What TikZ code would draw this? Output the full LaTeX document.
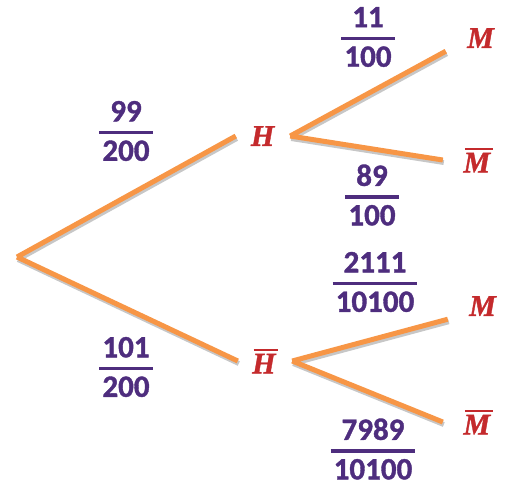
\documentclass[tikz,border=0pt]{standalone}
\usepackage{fontspec}
\usepackage{xcolor}
\setmainfont{Carlito}[BoldFeatures={FakeBold=1.2}]
\newfontfamily\letterfont{Liberation Serif}[BoldItalicFeatures={FakeBold=1.2}]
\definecolor{branchorange}{HTML}{F79646}
\definecolor{fracpurple}{HTML}{4E2D7E}
\definecolor{eventred}{HTML}{C42A2C}
\newcommand\frc[2]{{\renewcommand\arraystretch{0}\setlength\arrayrulewidth{3.5pt}%
  \begin{tabular}{@{\hspace{3pt}}c@{\hspace{3pt}}}\rule[-9.5pt]{0pt}{9.5pt}#1\\\hline\rule{0pt}{26.5pt}#2\end{tabular}}}
\newcommand\ev[1]{\textbf{\textit{#1}}}
\newcommand\evbar[1]{\setbox0\hbox{\ev{#1}}\vbox{\offinterlineskip\hbox{\kern1.5pt\vrule width \wd0 height 2.2pt}\kern3pt\box0}}

\begin{document}
\begin{tikzpicture} [x=1pt, y=-1pt,
  prob/.style={inner sep=0pt, text=fracpurple, font=\fontsize{31}{37}\selectfont\bfseries},
  event/.style={inner sep=0pt, minimum width=54pt, minimum height=26pt, text=eventred, font=\fontsize{30}{36}\letterfont},
  leaf/.style={event, minimum width=70pt},
  branch/.style={draw=branchorange, line width=5pt,
    preaction={draw=black!22, line width=5pt, transform canvas={shift={(1pt,-2.5pt)}}}}
]
\useasboundingbox (0,0) rectangle (509,491);

\coordinate (root) at (17,257);
\node[event] (H)  at (263,136) {\ev{H}};
\node[event] (Hb) at (265,361) {\evbar{H}};
\node[leaf] (M1)  at (481,38)  {\ev{M}};
\node[leaf] (Mb1) at (478,160) {\evbar{M}};
\node[leaf] (M2)  at (483,306) {\ev{M}};
\node[leaf] (Mb2) at (478,422) {\evbar{M}};

%probabilities
\node[prob] (pH)   at (126,131) {\frc{99}{200}};
\node[prob] (pHb)  at (126,367) {\frc{101}{200}};
\node[prob] (pM1)  at (368,37)  {\frc{11}{100}};
\node[prob] (pMb1) at (372,195) {\frc{89}{100}};
\node[prob] (pM2)  at (375,282) {\frc{2111}{10100}};
\node[prob] (pMb2) at (373,449) {\frc{7989}{10100}};

\draw[branch]
(root) -- (H.west)
(root) -- (Hb.west)
(H.east) -- (M1.south west)
(H.east) -- (Mb1.west)
(Hb.east) -- (M2.south west)
(Hb.east) -- (Mb2.west)
;
\end{tikzpicture}
\end{document}
